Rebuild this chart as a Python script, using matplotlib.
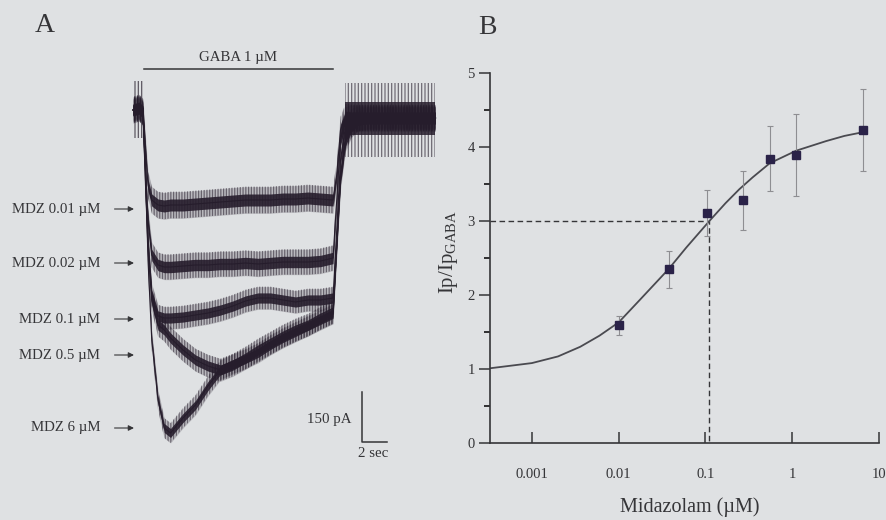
##### Midazolam potentiation of GABA currents - panels A and B

import matplotlib
matplotlib.use("Agg")
from matplotlib import pyplot as plt
from matplotlib.ticker import FixedLocator, MultipleLocator, NullLocator

plt.rcParams['font.family'] = ['Liberation Serif', 'DejaVu Serif']
plt.rcParams['mathtext.fontset'] = 'custom'
plt.rcParams['mathtext.rm'] = 'Liberation Serif'
plt.rcParams['hatch.linewidth'] = 0.9

BG = '#dfe1e3'
INK = '#261d2c'
TXT = '#353538'
plt.rcParams['hatch.color'] = INK

##### PANEL A DATA - current traces (time in s, current in pA, 0 = holding level)

t_sec = [0, 0.5, 0.8, 1.0, 1.2, 1.5, 2, 2.5, 3, 4, 5, 6, 7, 8, 9, 10,
         11, 12, 13, 14, 15, 16, 16.3, 16.6, 17, 17.5, 18, 19, 20, 22, 24.2]

mdz_001 = [9, 15, 3, -111, -216, -261, -276, -279, -276, -276, -273, -270, -267, -264, -261, -261,
           -261, -258, -258, -255, -258, -261, -186, -51, -12, -15, -15, -15, -15, -15, -15]
mdz_002 = [9, 15, 0, -171, -321, -426, -456, -462, -462, -459, -456, -456, -453, -453, -450, -453,
           -450, -447, -447, -447, -444, -435, -261, -81, -20, -15, -15, -15, -15, -15, -15]
mdz_01 = [9, 15, 0, -201, -381, -546, -609, -615, -615, -612, -606, -600, -591, -579, -564, -555,
          -555, -561, -567, -561, -561, -555, -351, -141, -40, -20, -15, -15, -15, -15, -15]
mdz_05 = [9, 15, 0, -216, -411, -561, -636, -651, -675, -711, -741, -759, -771, -756, -735, -711,
          -690, -669, -651, -636, -615, -597, -396, -186, -70, -36, -21, -15, -15, -15, -15]
mdz_6 = [9, 15, 0, -171, -441, -681, -861, -945, -960, -915, -876, -819, -771, -753, -738, -720,
         -696, -675, -657, -639, -621, -603, -396, -201, -85, -42, -24, -15, -15, -15, -15]

traces = [mdz_001, mdz_002, mdz_01, mdz_05, mdz_6]
trace_labels = ['MDZ 0.01 µM', 'MDZ 0.02 µM', 'MDZ 0.1 µM', 'MDZ 0.5 µM', 'MDZ 6 µM']
label_levels = [-288, -450, -618, -726, -945]
noise_pa = [40, 38, 34, 34, 30]          # half width of the noisy trace band
pre_noise = (96, -75)                    # spike envelope before the GABA step
wash_core = (33, -66)                    # dense band after washout
wash_noise = (90, -132)                  # spike envelope after washout

gaba_on, gaba_off = 0.9, 16.0

##### PANEL B DATA - concentration response

mdz_conc = [0.01, 0.0376, 0.103, 0.273, 0.555, 1.11, 6.5]
ip_ratio = [1.59, 2.35, 3.11, 3.28, 3.84, 3.89, 4.23]
ip_err = [0.13, 0.25, 0.31, 0.40, 0.44, 0.55, 0.55]

fit_conc = [0.00033, 0.001, 0.002, 0.0036, 0.006, 0.01, 0.0174, 0.0376, 0.06, 0.111,
            0.17, 0.246, 0.35, 0.55, 1.11, 2.46, 4.0, 6.5]
fit_ratio = [1.01, 1.08, 1.17, 1.30, 1.45, 1.63, 1.93, 2.35, 2.64, 3.00,
             3.24, 3.43, 3.59, 3.78, 3.95, 4.08, 4.15, 4.20]

ec_conc = 0.111
ec_level = 3.0


fig = plt.figure(figsize=(8.87, 5.2), dpi=100, facecolor=BG)

##### PANEL A

# pixel calibration: t=0 at x=133 px, 12.5 px per s; 0 pA at y=113 px, 3 pA per px
axA = fig.add_axes([0, 0, 443.5 / 887, 1])
axA.set_xlim((0 - 133) / 12.5, (443.5 - 133) / 12.5)
axA.set_ylim(-(520 - 113) * 3, (113 - 0) * 3)
axA.axis('off')

for tr, nz in zip(traces, noise_pa):
    lo = [v - nz for v in tr]
    hi = [v + nz for v in tr]
    axA.fill_between(t_sec, lo, hi, facecolor='none', edgecolor=INK, hatch='||||||',
                     lw=0, alpha=0.55)
    axA.fill_between(t_sec, lo, hi, color=INK, alpha=0.2, lw=0)
    lo2 = [v - nz * 0.45 for v in tr]
    hi2 = [v + nz * 0.45 for v in tr]
    axA.fill_between(t_sec, lo2, hi2, color=INK, alpha=0.9, lw=0)
    axA.plot(t_sec, tr, color=INK, lw=0.8)

wash_t = [t for t in t_sec if t >= 17]
n_w = len(wash_t)
axA.fill_between(wash_t, [wash_noise[1]] * n_w, [wash_noise[0]] * n_w,
                 facecolor='none', edgecolor=INK, hatch='|||||', lw=0, alpha=0.6)
axA.fill_between(wash_t, [wash_core[1]] * n_w, [wash_core[0]] * n_w,
                 color=INK, alpha=0.85, lw=0)
pre_t = t_sec[:3]
axA.fill_between(pre_t, [pre_noise[1]] * 3, [pre_noise[0]] * 3,
                 facecolor='none', edgecolor=INK, hatch='|||||', lw=0, alpha=0.7)

# GABA application bar
axA.plot([gaba_on, gaba_off], [132, 132], color=TXT, lw=1.1)
axA.text((gaba_on + gaba_off) / 2 - 0.05, 148, 'GABA 1 µM', ha='center', va='bottom',
         fontsize=10.7, color=TXT)

for lab, lvl in zip(trace_labels, label_levels):
    axA.text(-2.62, lvl, lab, ha='right', va='center', fontsize=10.7, color=TXT)
    axA.annotate('', xy=(0.3, lvl), xytext=(-1.7, lvl),
                 arrowprops=dict(arrowstyle='-|>', color=TXT, lw=0.8, mutation_scale=8))

# scale bar
sb_t, sb_i = 18.32, -987
axA.plot([sb_t, sb_t, sb_t + 2], [sb_i + 150, sb_i, sb_i], color=TXT, lw=1.1)
axA.text(sb_t - 0.8, sb_i + 66, '150 pA', ha='right', va='center', fontsize=10.7, color=TXT)
axA.text(sb_t + 0.9, sb_i - 16, '2 sec', ha='center', va='top', fontsize=10.7, color=TXT)

fig.text(45 / 887, 1 - 25 / 520, 'A', ha='center', va='center', fontsize=20, color=TXT)
fig.text(487 / 887, 1 - 28 / 520, 'B', ha='center', va='center', fontsize=20, color=TXT)

##### PANEL B

axB = fig.add_axes([490 / 887, 77 / 520, 389 / 887, 370 / 520])
axB.set_facecolor('none')
axB.set_xscale('log')
axB.set_xlim(10 ** -3.483, 10)
axB.set_ylim(0, 5)

axB.plot([axB.get_xlim()[0], ec_conc, ec_conc], [ec_level, ec_level, 0],
         color=TXT, lw=1.0, ls=(0, (4, 2.5)))
axB.plot(fit_conc, fit_ratio, color='#4a4a50', lw=1.3)
axB.errorbar(mdz_conc, ip_ratio, yerr=ip_err, fmt='s', ms=5.5, color='#2a2248',
             ecolor='#8e8e92', elinewidth=0.8, capsize=2.5, capthick=0.8)

for s in ['top', 'right']:
    axB.spines[s].set_visible(False)
for s in ['left', 'bottom']:
    axB.spines[s].set_linewidth(1.2)
    axB.spines[s].set_color(TXT)

axB.xaxis.set_major_locator(FixedLocator([0.001, 0.01, 0.1, 1, 10]))
axB.xaxis.set_minor_locator(NullLocator())
axB.set_xticklabels(['0.001', '0.01', '0.1', '1', '10'])
axB.yaxis.set_major_locator(MultipleLocator(1))
axB.yaxis.set_minor_locator(MultipleLocator(0.5))
axB.tick_params(axis='x', direction='in', length=8, width=1.1, pad=18,
                labelsize=10.5, colors=TXT)
axB.tick_params(axis='y', which='major', direction='out', length=8, width=1.1, pad=3,
                labelsize=10.5, colors=TXT)
axB.tick_params(axis='y', which='minor', direction='out', length=4.5, width=1.1)

axB.set_xlabel('Midazolam (µM)', fontsize=14.5, color=TXT)
axB.xaxis.set_label_coords(0.514, -0.148)
axB.set_ylabel(r'Ip/Ip$_{\mathrm{GABA}}$', fontsize=15, color=TXT)
axB.yaxis.set_label_coords(-0.077, 0.516)

plt.savefig('out.png', dpi=100, facecolor=BG)
